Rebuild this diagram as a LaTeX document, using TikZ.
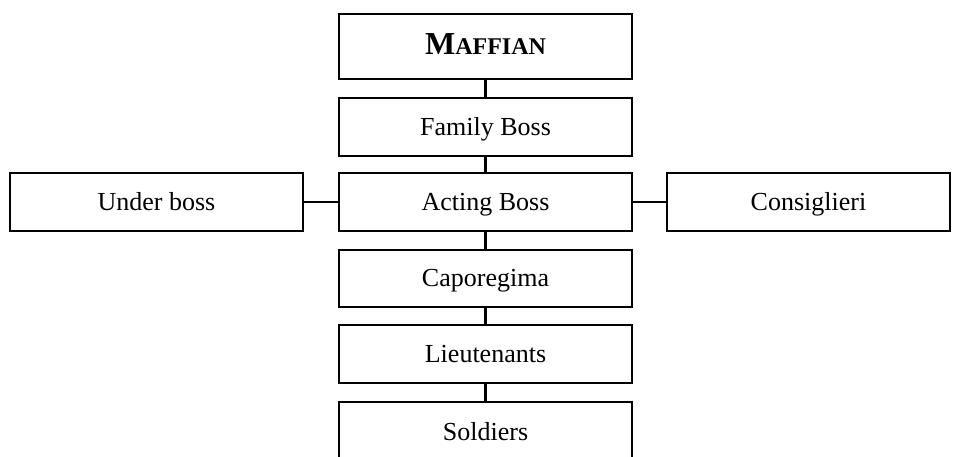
\documentclass[tikz,border=0pt]{standalone}
\usepackage{fontspec}
\setmainfont{Liberation Serif}
\begin{document}
\begin{tikzpicture}[x=1pt,y=-1pt,
  box/.style={draw, line width=2.8pt, minimum width=293pt, minimum height=58pt, inner sep=0pt, outer sep=0pt, text height=16pt, text depth=0pt, font=\fontsize{26}{30}\selectfont},
  link/.style={line width=2.8pt}]
\clip (0,0) rectangle (953,456);
\node[box, minimum height=65pt] (maf) at (485.5,46.5) {\textbf{{\fontsize{32}{34}\selectfont M}\fontsize{24}{28}\selectfont AFFIAN}};
\node[box] (fam) at (485.5,127) {Family Boss};
\node[box] (act) at (485.5,202) {Acting Boss};
\node[box] (und) at (156.5,202) {Under boss};
\node[box, minimum width=283pt] (con) at (808.5,202) {Consiglieri};
\node[box, minimum height=57pt] (cap) at (485.5,278.5) {Caporegima};
\node[box] (lie) at (485.5,354) {Lieutenants};
\node[box, minimum height=60pt] (sol) at (485.5,432) {Soldiers};
\draw[link] (maf) -- (fam);
\draw[link] (fam) -- (act);
\draw[link] (act) -- (cap);
\draw[link] (cap) -- (lie);
\draw[link] (lie) -- (sol);
\draw[link] (und) -- (act);
\draw[link] (act) -- (con);
\end{tikzpicture}
\end{document}
